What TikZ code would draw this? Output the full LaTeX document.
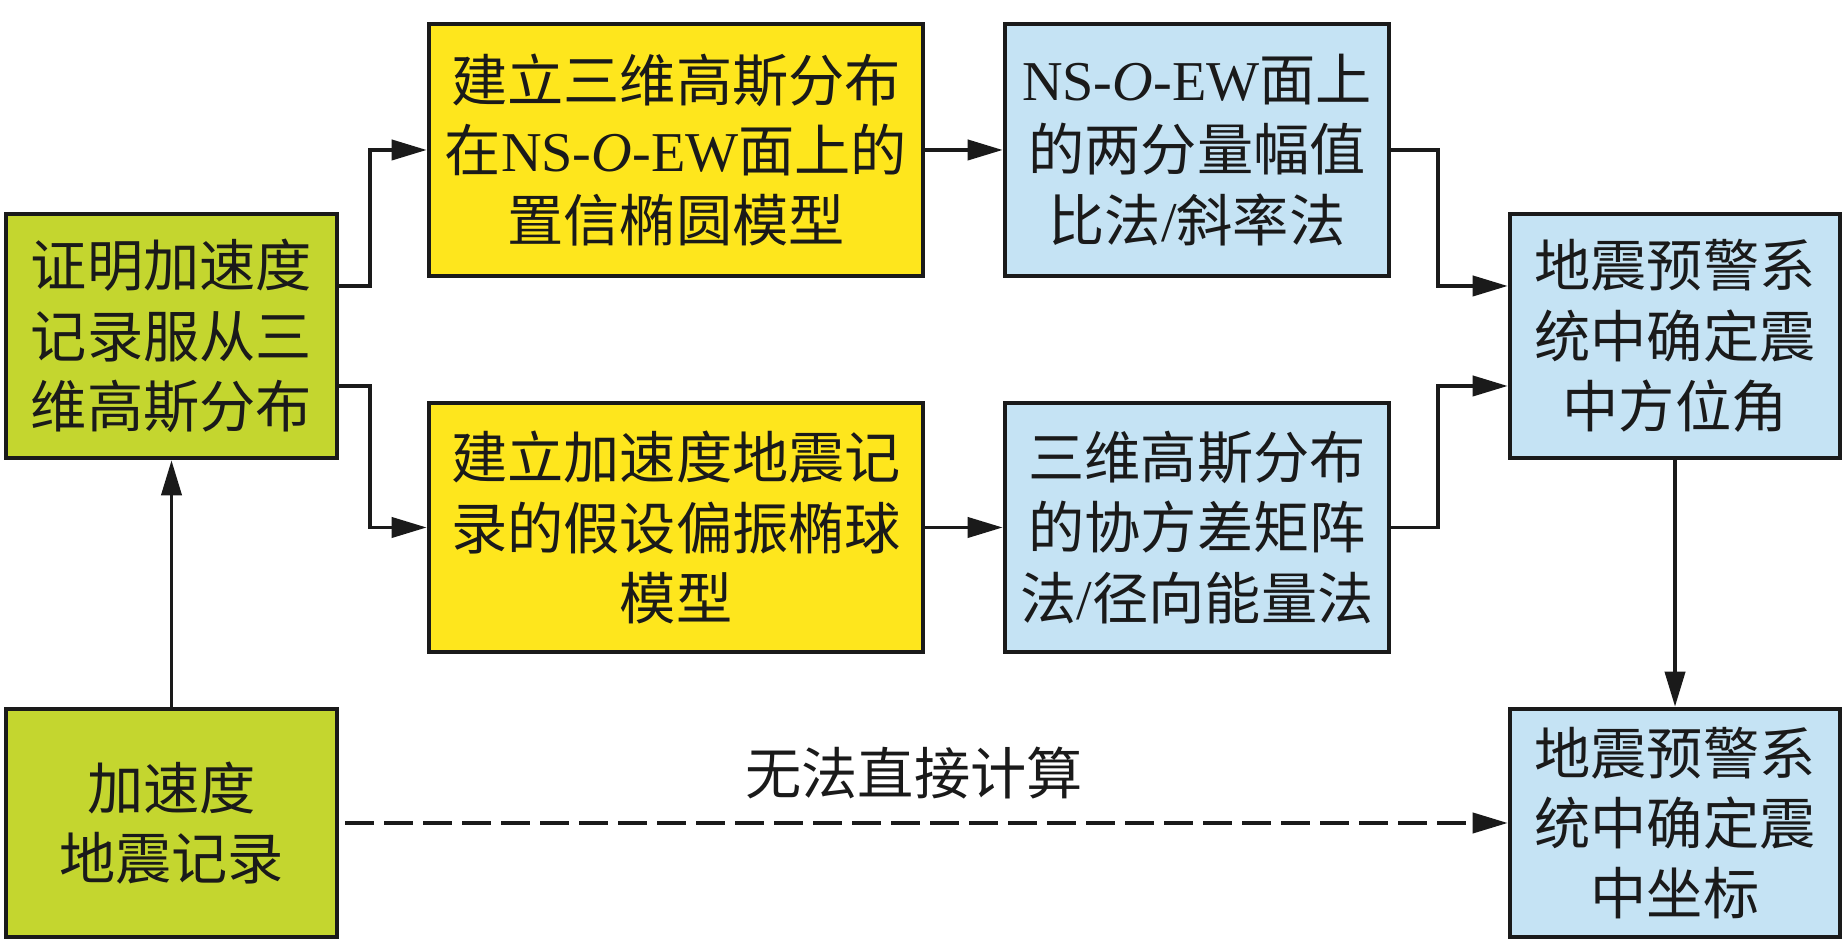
\documentclass[tikz,border=0pt]{standalone}
\usepackage{fontspec}
\setmainfont{Noto Sans CJK SC}
\newfontfamily\timesfont{Liberation Serif}
\usetikzlibrary{arrows.meta,calc,positioning}
\definecolor{FlowGreen}{HTML}{C4D62F}
\definecolor{FlowYellow}{HTML}{FEE61D}
\definecolor{FlowBlue}{HTML}{C5E3F4}
\definecolor{FlowDark}{HTML}{1A1A1A}
\newcommand{\FlowText}{\fontsize{16}{20}\selectfont}
\newcommand{\tnr}[1]{{\timesfont #1}}
\tikzset{
  flowbase/.style={
    draw=FlowDark,
    line width=1.3pt,
    rectangle,
    align=center,
    inner sep=1pt,
    text=FlowDark,
    font=\FlowText
  },
  greenbox/.style={flowbase, fill=FlowGreen},
  yellowbox/.style={flowbase, fill=FlowYellow},
  bluebox/.style={flowbase, fill=FlowBlue},
  mainarrow/.style={
    -{Triangle[length=3.5mm,width=2.0mm]},
    draw=FlowDark,
    line width=1.1pt
  },
  dasharrow/.style={
    mainarrow,
    dash pattern=on 2.9mm off 1.0mm,
    shorten <=0.06cm
  },
  arrowlabel/.style={
    inner sep=1pt,
    text=FlowDark,
    font=\FlowText
  }
}
\begin{document}
\begin{tikzpicture}[x=1cm,y=1cm]
\path[use as bounding box] (0,0) rectangle (18.43,9.45);

% left column
\node[greenbox, minimum width=3.31cm, minimum height=2.44cm] (prove) at (1.715,6.09)
  {证明加速度\\记录服从三\\维高斯分布};
\node[greenbox, minimum width=3.31cm, minimum height=2.28cm] (record) at (1.715,1.22)
  {加速度\\地震记录};

% models
\node[yellowbox, minimum width=4.94cm, minimum height=2.52cm] (confell) at (6.76,7.95)
  {建立三维高斯分布\\在\tnr{NS-\textit{O}-EW}面上的\\置信椭圆模型};
\node[yellowbox, minimum width=4.94cm, minimum height=2.49cm] (polell) at (6.76,4.175)
  {建立加速度地震记\\录的假设偏振椭球\\模型};

% methods
\node[bluebox, minimum width=3.84cm, minimum height=2.52cm] (ampratio) at (11.97,7.95)
  {\tnr{NS-\textit{O}-EW}面上\\的两分量幅值\\比法\tnr{/}斜率法};
\node[bluebox, minimum width=3.84cm, minimum height=2.49cm] (covar) at (11.97,4.175)
  {三维高斯分布\\的协方差矩阵\\法\tnr{/}径向能量法};

% results
\node[bluebox, minimum width=3.30cm, minimum height=2.44cm] (azimuth) at (16.75,6.09)
  {地震预警系\\统中确定震\\中方位角};
\node[bluebox, minimum width=3.30cm, minimum height=2.28cm] (epicenter) at (16.75,1.22)
  {地震预警系\\统中确定震\\中坐标};

\draw[mainarrow] (record.north) -- (prove.south);
\draw[mainarrow] ([yshift=0.5cm]prove.east) -- ++(0.31,0) |- (confell.west);
\draw[mainarrow] ([yshift=-0.5cm]prove.east) -- ++(0.31,0) |- (polell.west);
\draw[mainarrow] (confell.east) -- (ampratio.west);
\draw[mainarrow] (polell.east) -- (covar.west);
\draw[mainarrow] (ampratio.east) -- ++(0.47,0) |- ([yshift=0.5cm]azimuth.west);
\draw[mainarrow] (covar.east) -- ++(0.47,0) |- ([yshift=-0.5cm]azimuth.west);
\draw[mainarrow] (azimuth.south) -- (epicenter.north);

\draw[dasharrow] (record.east) -- (epicenter.west);
\node[arrowlabel] (nocalc) at (9.14,1.72) {无法直接计算};

\end{tikzpicture}
\end{document}
